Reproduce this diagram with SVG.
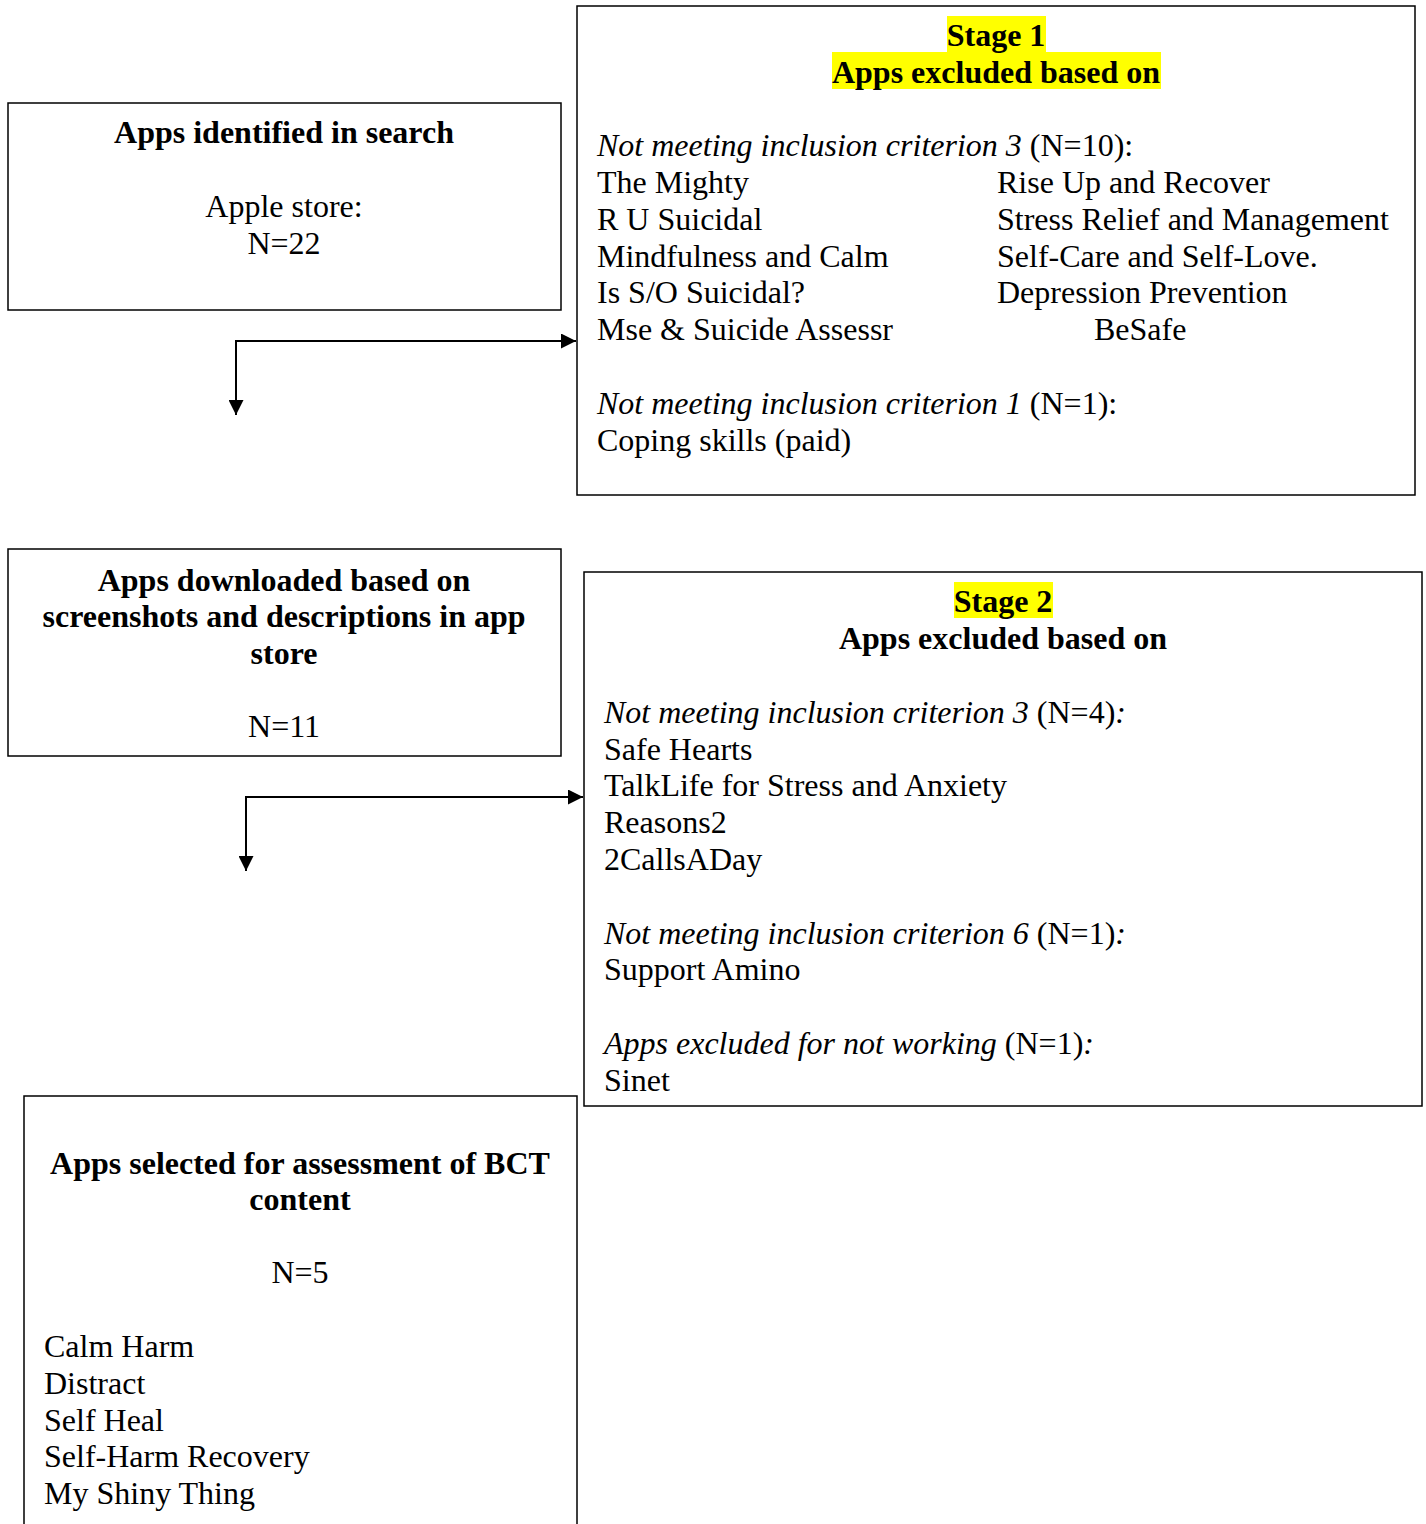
<svg xmlns="http://www.w3.org/2000/svg" width="1426" height="1524" viewBox="0 0 1426 1524">
<style>
text{font-family:"Liberation Serif","Times New Roman",serif;font-size:32px;fill:#000}
.b{font-weight:bold}
.c{text-anchor:middle}
.i{font-style:italic}
.box{fill:#fff;stroke:#000;stroke-width:1.5}
.hl{fill:#ffff00}
.ln{stroke:#000;stroke-width:2;fill:none}
</style>
<defs>
<marker id="ah" markerWidth="15" markerHeight="15" refX="15" refY="7.5" orient="auto" markerUnits="userSpaceOnUse" viewBox="0 0 15 15">
<path d="M0,0 L15,7.5 L0,15 Z" fill="#000"/>
</marker>
</defs>
<rect width="1426" height="1524" fill="#fff"/>
<g id="search">
<rect class="box" x="8" y="103" width="553" height="207"/>
<text class="b c" x="284" y="143">Apps identified in search</text>
<text class="c" x="284" y="217">Apple store:</text>
<text class="c" x="284" y="254">N=22</text>
</g>
<g id="stage1">
<rect class="box" x="577" y="6" width="838" height="489"/>
<rect class="hl" x="947" y="16" width="99" height="36"/>
<rect class="hl" x="832" y="52" width="329" height="37"/>
<text class="b c" x="996" y="46">Stage 1</text>
<text class="b c" x="996" y="83">Apps excluded based on</text>
<text x="597" y="156"><tspan class="i">Not meeting inclusion criterion 3</tspan> (N=10):</text>
<text x="597" y="193">The Mighty</text>
<text x="597" y="230">R U Suicidal</text>
<text x="597" y="267">Mindfulness and Calm</text>
<text x="597" y="303">Is S/O Suicidal?</text>
<text x="597" y="340">Mse &amp; Suicide Assessr</text>
<text x="997" y="193">Rise Up and Recover</text>
<text x="997" y="230">Stress Relief and Management</text>
<text x="997" y="267">Self-Care and Self-Love.</text>
<text x="997" y="303">Depression Prevention</text>
<text x="1094" y="340">BeSafe</text>
<text x="597" y="414"><tspan class="i">Not meeting inclusion criterion 1</tspan> (N=1):</text>
<text x="597" y="451">Coping skills (paid)</text>
</g>
<g id="downloaded">
<rect class="box" x="8" y="549" width="553" height="207"/>
<text class="b c" x="284" y="591">Apps downloaded based on</text>
<text class="b c" x="284" y="627">screenshots and descriptions in app</text>
<text class="b c" x="284" y="664">store</text>
<text class="c" x="284" y="737">N=11</text>
</g>
<g id="stage2">
<rect class="box" x="584" y="572" width="838" height="534"/>
<rect class="hl" x="954" y="582" width="99" height="36"/>
<text class="b c" x="1003" y="612">Stage 2</text>
<text class="b c" x="1003" y="649">Apps excluded based on</text>
<text x="604" y="723"><tspan class="i">Not meeting inclusion criterion 3</tspan> (N=4)<tspan class="i">:</tspan></text>
<text x="604" y="760">Safe Hearts</text>
<text x="604" y="796">TalkLife for Stress and Anxiety</text>
<text x="604" y="833">Reasons2</text>
<text x="604" y="870">2CallsADay</text>
<text x="604" y="944"><tspan class="i">Not meeting inclusion criterion 6</tspan> (N=1)<tspan class="i">:</tspan></text>
<text x="604" y="980">Support Amino</text>
<text x="604" y="1054"><tspan class="i">Apps excluded for not working</tspan> (N=1)<tspan class="i">:</tspan></text>
<text x="604" y="1091">Sinet</text>
</g>
<g id="selected">
<path class="box" d="M24,1530 V1096 H577 V1530"/>
<text class="b c" x="300" y="1174">Apps selected for assessment of BCT</text>
<text class="b c" x="300" y="1210">content</text>
<text class="c" x="300" y="1283">N=5</text>
<text x="44" y="1357">Calm Harm</text>
<text x="44" y="1394">Distract</text>
<text x="44" y="1431">Self Heal</text>
<text x="44" y="1467">Self-Harm Recovery</text>
<text x="44" y="1504">My Shiny Thing</text>
</g>
<g id="connectors">
<path class="ln" d="M236,341 H576" marker-end="url(#ah)"/>
<path class="ln" d="M236,340 V415" marker-end="url(#ah)"/>
<path class="ln" d="M246,797 H583" marker-end="url(#ah)"/>
<path class="ln" d="M246,796 V871" marker-end="url(#ah)"/>
</g>
</svg>
